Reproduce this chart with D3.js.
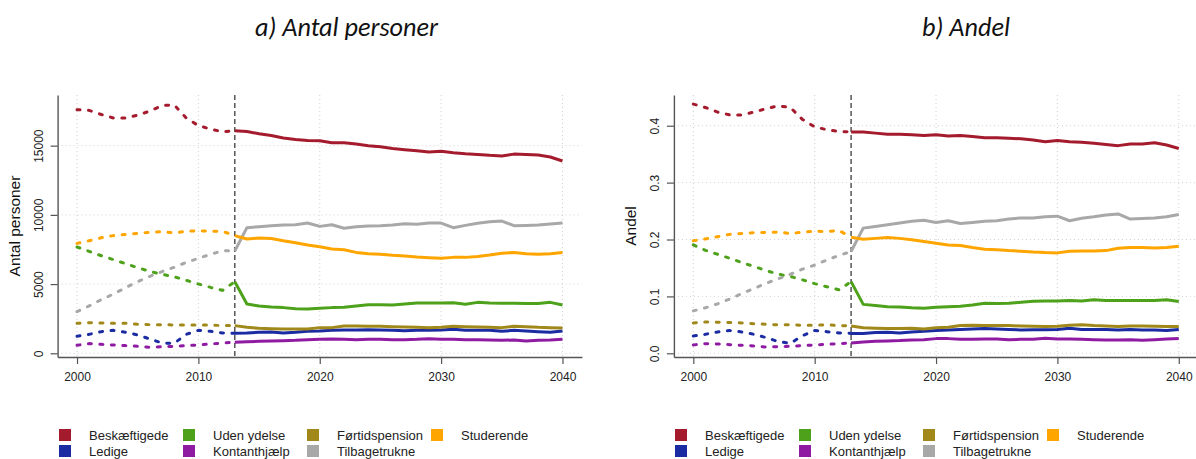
<!DOCTYPE html>
<html><head><meta charset="utf-8">
<script src="https://cdn.jsdelivr.net/npm/d3@7"></script>
<style>body{margin:0;background:#fff}svg{display:block}</style>
</head><body><svg id="c" width="1196" height="459"></svg>
<script>
const years = [2000,2001,2002,2003,2004,2005,2006,2007,2008,2009,2010,2011,2012,2013,2014,2015,2016,2017,2018,2019,2020,2021,2022,2023,2024,2025,2026,2027,2028,2029,2030,2031,2032,2033,2034,2035,2036,2037,2038,2039,2040];
const splitYear = 2013;
const xTicks = [2000,2010,2020,2030,2040];
const yTicksAntal = [0,5000,10000,15000];
const yTicksAndel = [0,0.1,0.2,0.3,0.4];
const panelTitles = ["a) Antal personer","b) Andel"];
const axisTitles = ["Antal personer","Andel"];
const seriesNames = ["Beskæftigede","Ledige","Uden ydelse","Kontanthjælp","Førtidspension","Tilbagetrukne","Studerende"];
const seriesColors = ["#A51B2E","#1B2CA3","#4DA11B","#8F1BA3","#A0891A","#A8A8A8","#FFA500"];

// a) Antal personer
const antalBeskaeftigede = [17600,17550,17250,17000,17000,17200,17500,17900,17950,17000,16450,16200,16000,16080,16030,15860,15740,15550,15450,15380,15360,15210,15210,15120,15000,14920,14800,14710,14630,14540,14590,14490,14420,14370,14300,14250,14390,14370,14320,14180,13890];
const antalLedige = [1230,1370,1565,1660,1515,1325,1035,745,720,1370,1660,1590,1470,1445,1470,1515,1540,1470,1515,1590,1610,1660,1685,1685,1710,1685,1660,1635,1660,1660,1685,1735,1660,1660,1660,1590,1660,1610,1565,1515,1610];
const antalUdenYdelse = [7680,7365,7050,6765,6475,6185,5920,5705,5535,5270,5005,4765,4550,5175,3560,3420,3345,3300,3225,3200,3250,3300,3320,3420,3515,3515,3490,3560,3635,3635,3635,3660,3540,3680,3635,3610,3610,3590,3590,3680,3490];
const antalKontanthjaelp = [580,700,650,600,555,505,435,480,505,555,600,675,745,795,840,865,890,915,940,985,1010,1035,1010,985,1010,1010,985,985,1010,1060,1010,1010,985,985,960,940,960,890,940,960,1010];
const antalFoertidspension = [2165,2215,2190,2165,2165,2095,2070,2070,2045,2045,2045,2045,2000,2000,1875,1805,1780,1755,1755,1755,1855,1855,1975,1975,1950,1950,1925,1900,1875,1855,1875,1950,1925,1900,1875,1855,1950,1925,1875,1855,1830];
const antalTilbagetrukne = [3010,3420,3875,4285,4740,5175,5560,5900,6210,6570,6860,7150,7410,7390,9075,9150,9220,9270,9290,9410,9170,9290,9030,9150,9195,9220,9270,9360,9315,9410,9410,9075,9240,9390,9510,9555,9220,9240,9270,9340,9410];
const antalStuderende = [7940,8135,8350,8500,8590,8665,8740,8785,8700,8810,8860,8810,8810,8500,8255,8330,8300,8135,7990,7820,7700,7530,7485,7290,7200,7150,7075,7030,6955,6910,6860,6930,6930,7000,7100,7220,7290,7200,7150,7200,7290];

// b) Andel
const andelBeskaeftigede = [0.438,0.432,0.424,0.419,0.419,0.424,0.430,0.435,0.432,0.411,0.398,0.393,0.390,0.389,0.389,0.387,0.385,0.385,0.384,0.383,0.384,0.382,0.383,0.381,0.379,0.379,0.378,0.377,0.375,0.372,0.374,0.372,0.371,0.369,0.367,0.365,0.368,0.368,0.370,0.366,0.360];
const andelLedige = [0.0305,0.0334,0.0375,0.040,0.0375,0.0334,0.0276,0.0205,0.0176,0.031,0.040,0.038,0.0358,0.035,0.0346,0.0364,0.037,0.0358,0.0375,0.0387,0.040,0.041,0.042,0.0428,0.0434,0.0428,0.042,0.041,0.0416,0.0416,0.042,0.044,0.042,0.042,0.042,0.041,0.042,0.041,0.041,0.040,0.042];
const andelUdenYdelse = [0.1906,0.181,0.174,0.167,0.1595,0.1525,0.1455,0.139,0.135,0.129,0.1225,0.117,0.1115,0.126,0.086,0.084,0.082,0.0815,0.080,0.079,0.081,0.082,0.0827,0.085,0.088,0.0874,0.088,0.0897,0.0915,0.092,0.092,0.093,0.092,0.094,0.093,0.0927,0.093,0.093,0.093,0.094,0.091];
const andelKontanthjaelp = [0.0147,0.017,0.0164,0.0152,0.014,0.0129,0.0111,0.0117,0.0123,0.0135,0.0147,0.0158,0.017,0.0182,0.020,0.021,0.0217,0.0223,0.0235,0.024,0.0258,0.0258,0.0246,0.0246,0.0252,0.0252,0.024,0.0246,0.0246,0.0264,0.0252,0.0252,0.0246,0.024,0.0235,0.0235,0.024,0.023,0.024,0.025,0.026];
const andelFoertidspension = [0.0534,0.055,0.0545,0.054,0.0534,0.052,0.051,0.050,0.050,0.0493,0.0493,0.050,0.0487,0.048,0.045,0.044,0.0434,0.0434,0.044,0.0428,0.045,0.0457,0.0487,0.0493,0.0487,0.0487,0.0487,0.048,0.0475,0.047,0.0475,0.0493,0.050,0.0487,0.048,0.047,0.048,0.048,0.0475,0.047,0.047];
const andelTilbagetrukne = [0.0745,0.080,0.087,0.0955,0.105,0.114,0.123,0.131,0.139,0.148,0.155,0.164,0.172,0.179,0.220,0.223,0.226,0.229,0.232,0.234,0.230,0.233,0.228,0.230,0.232,0.233,0.236,0.238,0.238,0.240,0.241,0.233,0.2375,0.240,0.243,0.245,0.236,0.237,0.238,0.240,0.244];
const andelStuderende = [0.1977,0.201,0.205,0.209,0.2105,0.212,0.2125,0.213,0.2105,0.213,0.2145,0.214,0.216,0.204,0.2005,0.202,0.2035,0.202,0.1995,0.1965,0.1935,0.1905,0.1895,0.186,0.183,0.182,0.1805,0.1795,0.178,0.177,0.1765,0.1795,0.180,0.180,0.1805,0.1845,0.186,0.186,0.185,0.186,0.188];

const antalSeries = [antalBeskaeftigede,antalLedige,antalUdenYdelse,antalKontanthjaelp,antalFoertidspension,antalTilbagetrukne,antalStuderende];
const andelSeries = [andelBeskaeftigede,andelLedige,andelUdenYdelse,andelKontanthjaelp,andelFoertidspension,andelTilbagetrukne,andelStuderende];

const svg = d3.select("#c");
const FONT = "'Liberation Sans', Arial, sans-serif";

const panels = [
  {series: antalSeries, ticks: yTicksAntal, fmt: d3.format("d"), yDom: [-267, 18660], xRange: [57.6, 581.9], titleX: 346.5, axisTitle: axisTitles[0], title: panelTitles[0], legendX: 59},
  {series: andelSeries, ticks: yTicksAndel, fmt: d3.format(".1f"), yDom: [-0.0065, 0.454], xRange: [673.9, 1198.2], titleX: 966, axisTitle: axisTitles[1], title: panelTitles[1], legendX: 675}
];

const yTop = 95, yBot = 357;

panels.forEach((p, pi) => {
  const x = d3.scaleLinear().domain([1998.4, 2041.6]).range(p.xRange);
  const y = d3.scaleLinear().domain(p.yDom).range([yBot, yTop]);
  const g = svg.append("g");
  const x0 = p.xRange[0], x1 = Math.min(p.xRange[1], 1196);

  // grid
  g.append("g").selectAll("line").data(xTicks).join("line")
    .attr("x1", d => x(d)).attr("x2", d => x(d)).attr("y1", yTop).attr("y2", yBot)
    .attr("stroke", "#d0d0d0").attr("stroke-width", 1).attr("stroke-dasharray", "1,3");
  g.append("g").selectAll("line").data(p.ticks).join("line")
    .attr("x1", x0).attr("x2", x1).attr("y1", d => y(d)).attr("y2", d => y(d))
    .attr("stroke", "#d0d0d0").attr("stroke-width", 1).attr("stroke-dasharray", "1,3");

  // axes
  const xa = g.append("g").attr("transform", `translate(0,${yBot})`)
    .call(d3.axisBottom(x).tickValues(xTicks).tickFormat(d3.format("d")).tickSize(7).tickSizeOuter(0).tickPadding(8.5));
  xa.selectAll("text").attr("font-family", FONT).attr("font-size", 12).attr("fill", "#222");
  const ya = g.append("g").attr("transform", `translate(${x0},0)`)
    .call(d3.axisLeft(y).tickValues(p.ticks).tickFormat(p.fmt).tickSize(7).tickSizeOuter(0));
  ya.selectAll("text").attr("font-family", FONT).attr("font-size", 12).attr("fill", "#222")
    .attr("x", 0).attr("dy", null).attr("text-anchor", "middle")
    .attr("transform", "translate(-15,0) rotate(-90)");
  [xa, ya].forEach(a => {
    a.select(".domain").attr("stroke", "#555").attr("stroke-width", 1.4);
    a.selectAll(".tick line").attr("stroke", "#555").attr("stroke-width", 1.2);
  });

  // axis title
  g.append("text").attr("transform", `translate(${x0 - 37.5},${(yTop + yBot) / 2}) rotate(-90)`)
    .attr("text-anchor", "middle").attr("font-family", FONT).attr("font-size", 15.5).attr("fill", "#111")
    .text(p.axisTitle);

  // split line
  g.append("line").attr("x1", x(splitYear)).attr("x2", x(splitYear)).attr("y1", yTop).attr("y2", yBot)
    .attr("stroke", "#555").attr("stroke-width", 1.5).attr("stroke-dasharray", "5,3");

  // series
  const line = d3.line().x(d => x(d[0])).y(d => y(d[1]));
  p.series.forEach((vals, si) => {
    const pts = years.map((yr, i) => [yr, vals[i]]);
    const hist = pts.filter(d => d[0] <= splitYear);
    const proj = pts.filter(d => d[0] >= splitYear);
    g.append("path").attr("d", line(hist)).attr("fill", "none")
      .attr("stroke", seriesColors[si]).attr("stroke-width", 3)
      .attr("stroke-linecap", "round").attr("stroke-dasharray", "3,8.5");
    g.append("path").attr("d", line(proj)).attr("fill", "none")
      .attr("stroke", seriesColors[si]).attr("stroke-width", 3)
      .attr("stroke-linejoin", "round");
  });

  // title
  const t = svg.append("text").attr("x", p.titleX).attr("y", 35.5).attr("text-anchor", "middle")
    .attr("font-family", "Carlito, Lato, 'Open Sans', sans-serif").attr("font-style", "italic")
    .attr("font-size", 24).attr("fill", "#111").text(p.title);
  p.titleNode = t;

  // legend
  const lg = svg.append("g");
  seriesNames.forEach((name, i) => {
    const col = Math.floor(i / 2), row = i % 2;
    const lx = p.legendX + col * 124, ly = 429 + row * 16;
    lg.append("rect").attr("x", lx).attr("y", ly).attr("width", 12).attr("height", 12).attr("fill", seriesColors[i]);
    lg.append("text").attr("x", lx + 30).attr("y", ly + 6).attr("dy", "0.35em")
      .attr("font-family", FONT).attr("font-size", 13).attr("fill", "#222").text(name);
  });
});

// fit title size to the reference width of the first title
const w0 = panels[0].titleNode.node().getComputedTextLength();
const fs = 24 * 183 / w0;
panels.forEach(p => p.titleNode.attr("font-size", fs));
</script>
</body></html>
